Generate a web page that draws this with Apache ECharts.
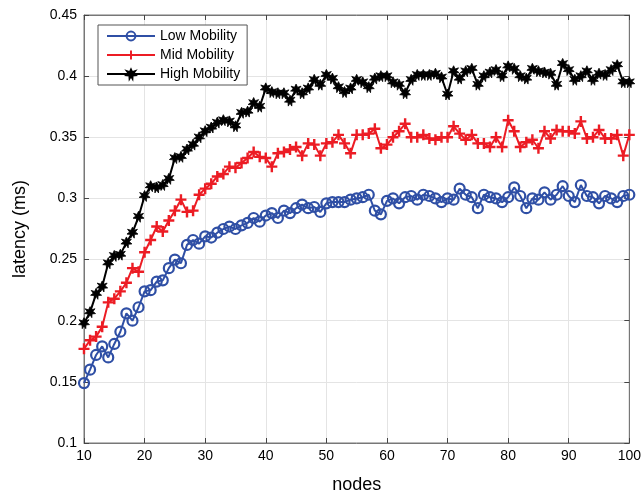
<!DOCTYPE html>
<html><head><meta charset="utf-8">
<script src="https://cdn.jsdelivr.net/npm/echarts@6/dist/echarts.min.js"></script>
<style>html,body{margin:0;padding:0;background:#fff}#c{width:644px;height:499px}</style>
</head><body><div id="c"></div>
<script>
const nodes = [];
for (let n = 10; n <= 100; n++) nodes.push(n);
const lowMobility = [
0.149,0.160,0.172,0.179,0.170,0.181,0.191,0.206,0.200,0.211,
0.224,0.225,0.232,0.233,0.243,0.250,0.247,0.262,0.266,0.263,
0.269,0.268,0.272,0.275,0.277,0.275,0.278,0.280,0.284,0.281,
0.286,0.288,0.284,0.290,0.288,0.292,0.295,0.292,0.293,0.289,
0.296,0.297,0.297,0.297,0.299,0.300,0.301,0.303,0.290,0.287,
0.298,0.300,0.296,0.301,0.302,0.299,0.303,0.302,0.300,0.297,
0.300,0.299,0.308,0.303,0.301,0.292,0.303,0.301,0.300,0.297,
0.301,0.309,0.302,0.292,0.300,0.299,0.305,0.299,0.303,0.310,
0.302,0.297,0.311,0.302,0.301,0.296,0.302,0.300,0.297,0.302,0.303];
const midMobility = [
0.177,0.184,0.187,0.195,0.215,0.218,0.224,0.231,0.243,0.240,
0.256,0.266,0.277,0.273,0.282,0.290,0.299,0.289,0.290,0.303,
0.308,0.312,0.318,0.320,0.326,0.325,0.329,0.333,0.338,0.334,
0.333,0.326,0.337,0.338,0.340,0.342,0.335,0.345,0.344,0.335,
0.345,0.346,0.352,0.345,0.337,0.352,0.352,0.353,0.357,0.341,
0.344,0.350,0.355,0.361,0.350,0.350,0.352,0.349,0.348,0.350,
0.350,0.359,0.353,0.348,0.352,0.345,0.345,0.342,0.350,0.342,
0.364,0.355,0.342,0.346,0.348,0.341,0.355,0.349,0.356,0.355,
0.355,0.353,0.363,0.349,0.350,0.356,0.349,0.349,0.352,0.335,0.352];
const highMobility = [
0.198,0.207,0.222,0.228,0.247,0.253,0.254,0.264,0.272,0.285,
0.302,0.310,0.309,0.311,0.316,0.333,0.334,0.340,0.344,0.350,
0.355,0.358,0.362,0.364,0.363,0.359,0.370,0.371,0.378,0.375,
0.390,0.387,0.386,0.386,0.380,0.389,0.386,0.390,0.397,0.393,
0.401,0.398,0.391,0.387,0.390,0.397,0.395,0.391,0.398,0.400,
0.400,0.395,0.393,0.386,0.397,0.401,0.401,0.401,0.402,0.399,
0.385,0.404,0.398,0.404,0.406,0.393,0.400,0.403,0.405,0.400,
0.408,0.406,0.400,0.398,0.406,0.404,0.403,0.402,0.393,0.410,
0.405,0.397,0.400,0.404,0.397,0.402,0.401,0.405,0.409,0.395,0.395];
const seriesNames = ['Low Mobility','Mid Mobility','High Mobility'];
const xTicks = {min:10, max:100, interval:10};
const yTicks = {min:0.1, max:0.45, interval:0.05};

const font = 'Liberation Sans, Arial, Helvetica, sans-serif';
const plusPath = 'path://M3.9,0H6.1V3.9H10V6.1H6.1V10H3.9V6.1H0V3.9H3.9Z';
const starPath = 'path://M5,0L6.4,2.9L9.5,1.9L7.6,4.4L10,6.3L6.8,6.6L6.6,10L5,7.3L3.4,10L3.2,6.6L0,6.3L2.4,4.4L0.5,1.9L3.6,2.9Z';
const pair = arr => arr.map((v,i)=>[nodes[i], v]);
const chart = echarts.init(document.getElementById('c'), null, {renderer:'canvas'});
const tickStyle = {inside:true, length:5, lineStyle:{color:'#444'}};
chart.setOption({
  animation:false,
  backgroundColor:'#fff',
  textStyle:{fontFamily:font},
  grid:{left:84, right:13, top:15, bottom:56, show:true, borderColor:'#777', borderWidth:1},
  legend:{
    orient:'vertical', left:98, top:25, itemWidth:48, itemHeight:11, itemGap:5,
    backgroundColor:'#fff', borderColor:'#555', borderWidth:1, padding:[4,7,4,8],
    textStyle:{fontSize:14, color:'#000', fontFamily:font},
    data:seriesNames
  },
  xAxis:[{
    type:'value', min:xTicks.min, max:xTicks.max, interval:xTicks.interval,
    name:'nodes', nameLocation:'middle', nameGap:33,
    nameTextStyle:{fontSize:18, color:'#000', fontFamily:font},
    axisLine:{show:true, lineStyle:{color:'#777'}},
    axisTick:tickStyle,
    axisLabel:{color:'#000', fontSize:14, margin:6, fontFamily:font},
    splitLine:{show:true, lineStyle:{color:'#e4e4e4'}}
  },{
    type:'value', position:'top', min:xTicks.min, max:xTicks.max, interval:xTicks.interval,
    axisLine:{show:true, lineStyle:{color:'#777'}}, axisTick:tickStyle,
    axisLabel:{show:false}, splitLine:{show:false}
  }],
  yAxis:[{
    type:'value', min:yTicks.min, max:yTicks.max, interval:yTicks.interval,
    name:'latency (ms)', nameLocation:'middle', nameGap:55, nameRotate:90,
    nameTextStyle:{fontSize:18, color:'#000', fontFamily:font},
    axisLine:{show:true, lineStyle:{color:'#777'}},
    axisTick:tickStyle,
    axisLabel:{color:'#000', fontSize:14, margin:7, fontFamily:font,
      formatter:v=>String(+v.toFixed(2))},
    splitLine:{show:true, lineStyle:{color:'#e4e4e4'}}
  },{
    type:'value', position:'right', min:yTicks.min, max:yTicks.max, interval:yTicks.interval,
    axisLine:{show:true, lineStyle:{color:'#777'}}, axisTick:tickStyle,
    axisLabel:{show:false}, splitLine:{show:false}
  }],
  series:[
    {name:seriesNames[0], type:'line', data:pair(lowMobility), symbol:'circle', symbolSize:10,
     showAllSymbol:true, lineStyle:{color:'#2f4fa5', width:2},
     itemStyle:{color:'rgba(255,255,255,0)', borderColor:'#2f4fa5', borderWidth:2.2}},
    {name:seriesNames[1], type:'line', data:pair(midMobility), symbol:plusPath, symbolSize:11,
     showAllSymbol:true, lineStyle:{color:'#ec1c24', width:2},
     itemStyle:{color:'#ec1c24'}},
    {name:seriesNames[2], type:'line', data:pair(highMobility), symbol:starPath, symbolSize:11,
     showAllSymbol:true, lineStyle:{color:'#000', width:2},
     itemStyle:{color:'#000', borderColor:'#000', borderWidth:0.8}}
  ]
});
</script></body></html>
